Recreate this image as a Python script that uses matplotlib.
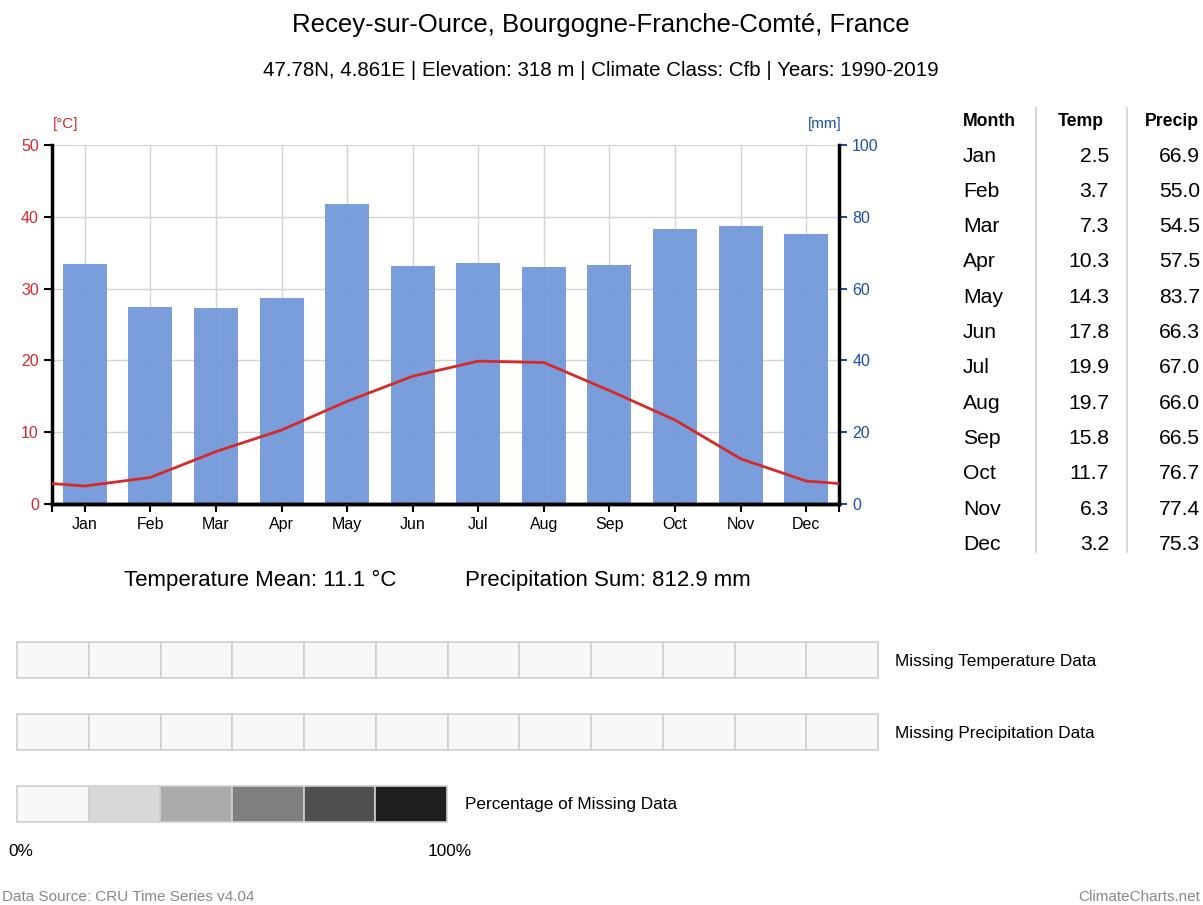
import numpy as np
import matplotlib.pyplot as plt
from matplotlib.patches import Rectangle

plt.rcParams['font.family'] = ['Liberation Sans', 'DejaVu Sans']

# data
months = ['Jan', 'Feb', 'Mar', 'Apr', 'May', 'Jun', 'Jul', 'Aug', 'Sep', 'Oct', 'Nov', 'Dec']
temp = [2.5, 3.7, 7.3, 10.3, 14.3, 17.8, 19.9, 19.7, 15.8, 11.7, 6.3, 3.2]
precip = [66.9, 55.0, 54.5, 57.5, 83.7, 66.3, 67.0, 66.0, 66.5, 76.7, 77.4, 75.3]
missing_temp = [0] * 12
missing_precip = [0] * 12
missing_colors = ['#f8f8f8', '#d8d8d8', '#aaaaaa', '#7f7f7f', '#4f4f4f', '#1f1f1f']

title = 'Recey-sur-Ource, Bourgogne-Franche-Comté, France'
subtitle = '47.78N, 4.861E | Elevation: 318 m | Climate Class: Cfb | Years: 1990-2019'
temp_mean = 'Temperature Mean: 11.1 °C'
precip_sum = 'Precipitation Sum: 812.9 mm'

W, H = 1203, 905
fig = plt.figure(figsize=(W / 100, H / 100), dpi=100)

red = '#d42a2a'
blue = '#1c4fa6'
bar_color = '#7097da'

# main climate chart
ax = fig.add_axes([52 / W, 1 - 504 / H, 787 / W, 359 / H])
ax2 = ax.twinx()
x = np.arange(12)
ax2.bar(x, precip, width=0.67, color=bar_color, alpha=0.93, zorder=2)
ax2.set_ylim(0, 100)
ax2.set_yticks(range(0, 101, 20))
ax2.tick_params(axis='y', colors=blue, labelsize=11.5, length=6, width=1.5)
for lab in ax2.get_yticklabels():
    lab.set_color(blue)

# line wraps around the year at the edges
edge = (temp[0] + temp[-1]) / 2
lx = np.concatenate([[-0.5], x, [11.5]])
ly = np.concatenate([[edge], temp, [edge]])
ax.plot(lx, ly, color=red, lw=2, zorder=5)
ax.set_zorder(ax2.get_zorder() + 1)
ax.patch.set_visible(False)

ax.set_xlim(-0.5, 11.5)
ax.set_ylim(0, 50)
ax.set_yticks(range(0, 51, 10))
ax.set_xticks(x)
ax.set_xticklabels(months)
ax.set_xticks([-0.5, 11.5], minor=True)
ax.tick_params(axis='y', labelcolor=red, labelsize=11.5, length=6, width=1.5, color='black')
ax.tick_params(axis='x', which='both', labelsize=11.5, length=6, width=1.5)

# grid drawn on the bar axis so it sits behind the bars
for v in range(10, 51, 10):
    ax2.axhline(v * 2, color='#d4d4d4', lw=1, zorder=0)
for xi in x:
    ax2.axvline(xi, color='#d4d4d4', lw=1, zorder=0)

for a in (ax, ax2):
    a.spines['top'].set_visible(False)
    for s in ('left', 'right', 'bottom'):
        a.spines[s].set_linewidth(2.5)
ax2.spines['left'].set_visible(False)
ax.spines['right'].set_visible(False)

# overlay for texts, table and missing-data boxes (pixel coordinates)
ov = fig.add_axes([0, 0, 1, 1])
ov.set_xlim(0, W)
ov.set_ylim(H, 0)
ov.axis('off')
ov.patch.set_visible(False)

ov.text(601, 25, title, ha='center', va='center', fontsize=18.5)
ov.text(601, 70, subtitle, ha='center', va='center', fontsize=14.8)
ov.text(66, 124, '[°C]', ha='center', va='center', fontsize=11, color=red)
ov.text(825, 124, '[mm]', ha='center', va='center', fontsize=11, color=blue)

ov.text(260, 580, temp_mean, ha='center', va='center', fontsize=16)
ov.text(608, 580, precip_sum, ha='center', va='center', fontsize=16)

# table
ov.text(963, 122, 'Month', ha='left', va='center', fontsize=12.7, fontweight='bold')
ov.text(1104, 122, 'Temp', ha='right', va='center', fontsize=12.7, fontweight='bold')
ov.text(1199, 122, 'Precip', ha='right', va='center', fontsize=12.7, fontweight='bold')
for i, m in enumerate(months):
    yy = 156 + i * 35.3
    ov.text(963, yy, m, ha='left', va='center', fontsize=15.2)
    ov.text(1109, yy, '%.1f' % temp[i], ha='right', va='center', fontsize=15.2)
    ov.text(1200, yy, '%.1f' % precip[i], ha='right', va='center', fontsize=15.2)
for vx in (1036, 1127):
    ov.plot([vx, vx], [108, 552], color='#d0d0d0', lw=1.2)

# missing data rows
cw = (878 - 17) / 12
for row_y, vals, label in ((642, missing_temp, 'Missing Temperature Data'),
                           (714, missing_precip, 'Missing Precipitation Data')):
    for i, v in enumerate(vals):
        ci = min(int(v / 100 * 6), 5)
        ov.add_patch(Rectangle((17 + i * cw, row_y), cw, 36, facecolor=missing_colors[ci],
                               edgecolor='#d0d0d0', lw=1.2))
    ov.text(895, row_y + 19, label, ha='left', va='center', fontsize=12.4)

lw_ = (447 - 17) / 6
for i, c in enumerate(missing_colors):
    ov.add_patch(Rectangle((17 + i * lw_, 786), lw_, 36, facecolor=c, edgecolor='#d0d0d0', lw=1.2))
ov.text(465, 804, 'Percentage of Missing Data', ha='left', va='center', fontsize=12.4)
ov.text(8, 851, '0%', ha='left', va='center', fontsize=12.4)
ov.text(428, 851, '100%', ha='left', va='center', fontsize=12.4)

ov.text(2, 897, 'Data Source: CRU Time Series v4.04', ha='left', va='center', fontsize=11, color='#888888')
ov.text(1200, 897, 'ClimateCharts.net', ha='right', va='center', fontsize=11, color='#888888')

fig.savefig('out.png', dpi=100)
